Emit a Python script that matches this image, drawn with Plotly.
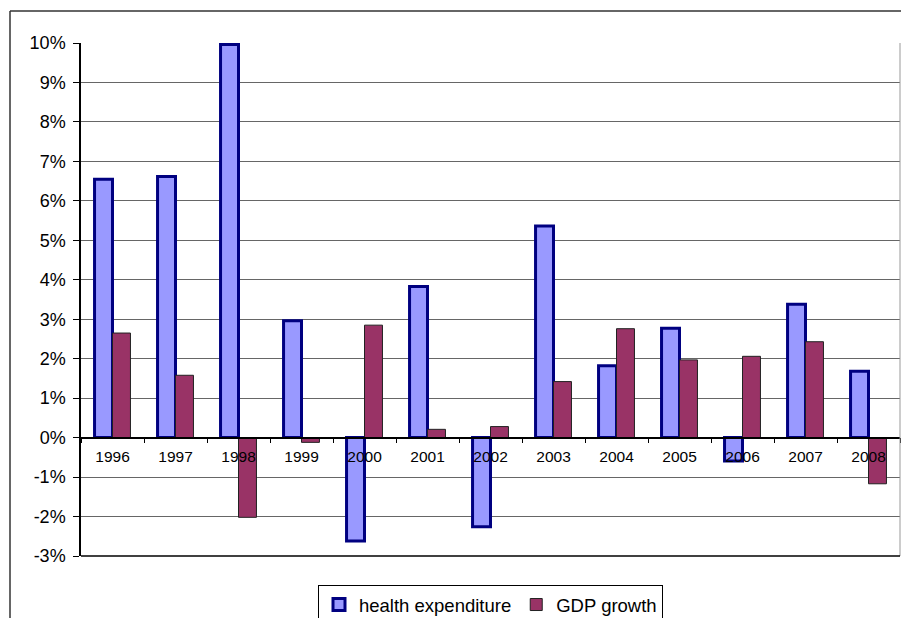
import plotly.graph_objects as go

# Annual rates, percent
years = ["1996", "1997", "1998", "1999", "2000", "2001", "2002",
         "2003", "2004", "2005", "2006", "2007", "2008"]
health_expenditure = [6.55, 6.62, 9.96, 2.96, -2.62, 3.83, -2.26,
                      5.36, 1.82, 2.77, -0.59, 3.38, 1.68]
gdp_growth = [2.65, 1.58, -2.02, -0.12, 2.85, 0.21, 0.28,
              1.42, 2.76, 1.97, 2.06, 2.43, -1.17]
y_ticks = list(range(-3, 11))
y_tick_text = [f"{v}%" for v in y_ticks]

FONT = "Arial, Liberation Sans, sans-serif"
Y_MIN, Y_MAX = -3, 10

fig = go.Figure()
fig.add_trace(go.Bar(
    x=years, y=health_expenditure, name="health expenditure",
    marker=dict(color="#9999FF", line=dict(color="#000080", width=3)),
))
fig.add_trace(go.Bar(
    x=years, y=gdp_growth, name="GDP growth",
    marker=dict(color="#993366", line=dict(color="#222222", width=1)),
))

W, H = 901, 618
L, R, T, B = 81, 1, 43, 62
pw, ph = W - L - R, H - T - B

# chart frame (extends past the page to the right and bottom)
fx = (10 - L) / pw
fy = 1 + (T - 11) / ph
shapes = [
    dict(type="line", xref="paper", yref="paper", x0=fx, x1=1.2, y0=fy, y1=fy,
         line=dict(color="#333333", width=1.5)),
    dict(type="line", xref="paper", yref="paper", x0=fx, x1=fx, y0=fy, y1=-0.3,
         line=dict(color="#333333", width=1.5)),
    # plot area right and bottom edges
    dict(type="line", xref="paper", yref="paper", x0=1, x1=1, y0=0, y1=1,
         line=dict(color="#999999", width=1)),
    dict(type="line", xref="paper", yref="paper", x0=0, x1=1, y0=0, y1=0,
         line=dict(color="#000000", width=1.5)),
]

legend_top_px = 585
fig.update_layout(
    width=W, height=H,
    margin=dict(l=L, r=R, t=T, b=B, pad=0, autoexpand=False),
    paper_bgcolor="white", plot_bgcolor="white",
    barmode="group", bargap=0.43, bargroupgap=0,
    font=dict(family=FONT, color="black"),
    showlegend=True,
    legend=dict(
        orientation="h", x=0.5, xanchor="center",
        y=-(legend_top_px - (T + ph)) / ph, yanchor="top",
        bordercolor="black", borderwidth=1, bgcolor="white",
        font=dict(family=FONT, size=18.5, color="black"),
        itemwidth=30, tracegroupgap=0,
    ),
    shapes=shapes,
    xaxis=dict(
        type="category", anchor="free",
        position=(0 - Y_MIN) / (Y_MAX - Y_MIN),
        showline=True, linecolor="black", linewidth=1.5,
        ticks="outside", ticklen=5, tickcolor="black", tickwidth=1,
        tickson="boundaries", showgrid=False,
        tickfont=dict(family=FONT, size=15.5, color="black"),
        ticklabelstandoff=5,
        layer="above traces",
    ),
    yaxis=dict(
        range=[Y_MIN, Y_MAX], tickvals=y_ticks, ticktext=y_tick_text,
        showline=True, linecolor="black", linewidth=1.5,
        ticks="outside", ticklen=6, tickcolor="black", tickwidth=1,
        showgrid=True, gridcolor="#666666", gridwidth=1,
        zeroline=False,
        tickfont=dict(family=FONT, size=18, color="black"),
        ticklabelstandoff=4,
    ),
)

fig.write_html("out.html")
